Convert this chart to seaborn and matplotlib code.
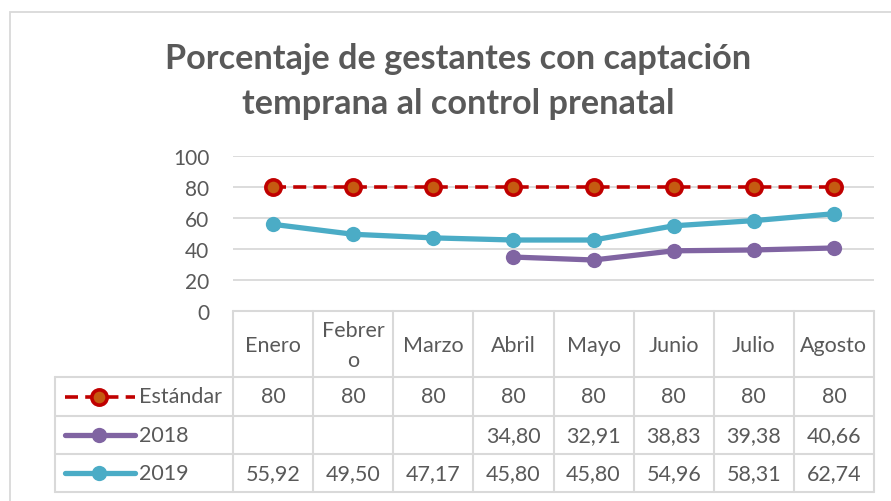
import matplotlib
matplotlib.use('Agg')
import matplotlib.pyplot as plt
import seaborn as sns
import numpy as np
import pandas as pd
from matplotlib.lines import Line2D
from matplotlib.patches import Rectangle

# data
months = ['Enero', 'Febrero', 'Marzo', 'Abril', 'Mayo', 'Junio', 'Julio', 'Agosto']
month_labels = ['Enero', 'Febrer\no', 'Marzo', 'Abril', 'Mayo', 'Junio', 'Julio', 'Agosto']
estandar = [80, 80, 80, 80, 80, 80, 80, 80]
y2018 = [None, None, None, 34.80, 32.91, 38.83, 39.38, 40.66]
y2019 = [55.92, 49.50, 47.17, 45.80, 45.80, 54.96, 58.31, 62.74]
series_names = ['Estándar', '2018', '2019']

TXT = '#595959'
GRID = '#d9d9d9'
FS = 15.5
styles = {
    'Estándar': dict(color='#C00000', linestyle=(0, (3.6, 2.0)), linewidth=2.6,
                     marker='o', markersize=11, markerfacecolor='#C55A11',
                     markeredgecolor='#C00000', markeredgewidth=2.6),
    '2018': dict(color='#8064A2', linestyle='-', linewidth=3.8, marker='o',
                 markersize=11, markerfacecolor='#8064A2', markeredgecolor='#8064A2',
                 markeredgewidth=0),
    '2019': dict(color='#4BACC6', linestyle='-', linewidth=3.8, marker='o',
                 markersize=11, markerfacecolor='#4BACC6', markeredgecolor='#4BACC6',
                 markeredgewidth=0),
}

df = pd.DataFrame({'mes': range(len(months)), 'Estándar': estandar,
                   '2018': y2018, '2019': y2019}).astype(float)

sns.set_style('white')
plt.rcParams['font.family'] = ['Lato', 'DejaVu Sans']

W, H = 891, 502
fig = plt.figure(figsize=(W / 100, H / 100), dpi=100)

# outer chart border
fig.add_artist(Rectangle((10 / W, -0.1), 1.2, 1 - 13 / H + 0.1, transform=fig.transFigure,
                         fill=False, edgecolor=GRID, linewidth=1.3))

x0, x1, ytop, ybot = 233, 874, 157, 312
ax = fig.add_axes([x0 / W, 1 - ybot / H, (x1 - x0) / W, (ybot - ytop) / H])
for name in ['2019', '2018', 'Estándar']:
    sns.lineplot(data=df, x='mes', y=name, ax=ax, errorbar=None, zorder=3, **styles[name])
ax.set_xlim(-0.5, len(months) - 0.5)
ax.set_ylim(0, 100)
ax.set_yticks(range(0, 101, 20))
ax.set_xticks([])
ax.set_xlabel('')
ax.set_ylabel('')
ax.yaxis.grid(True, color=GRID, linewidth=1.3)
ax.tick_params(axis='y', length=0, pad=17, labelsize=15, labelcolor=TXT)
for s in ax.spines.values():
    s.set_visible(False)
ax.patch.set_alpha(0)

fig.text(0.514, 1 - 59 / H, 'Porcentaje de gestantes con captación', ha='center', va='center',
         fontsize=24.7, fontweight='bold', color=TXT)
fig.text(0.514, 1 - 104 / H, 'temprana al control prenatal', ha='center', va='center',
         fontsize=24.7, fontweight='bold', color=TXT)

# data table
tl, tb = 55, 493
unit = (x1 - x0) / len(months)
tab = fig.add_axes([tl / W, 1 - tb / H, (x1 - tl) / W, (tb - ybot) / H])
left = -0.5 - (x0 - tl) / unit
tab.set_xlim(left, len(months) - 0.5)
tab.set_ylim(tb - ybot, 0)
tab.axis('off')
row_edges = [0, 66, 105, 143, 181]
lk = dict(color=GRID, linewidth=1.5, clip_on=False)
# header grid (no legend cell in header)
tab.plot([-0.5, len(months) - 0.5], [0, 0], **lk)
for i in range(len(months) + 1):
    tab.plot([i - 0.5, i - 0.5], [0, row_edges[-1]], **lk)
for e in row_edges[1:]:
    tab.plot([left, len(months) - 0.5], [e, e], **lk)
tab.plot([left, left], [row_edges[1], row_edges[-1]], **lk)

for i, lab in enumerate(month_labels):
    tab.text(i, row_edges[1] / 2 + 1, lab, ha='center', va='center', fontsize=FS,
             color=TXT, linespacing=1.6)

rows = [estandar, y2018, y2019]
for r, (name, vals) in enumerate(zip(series_names, rows)):
    yc = (row_edges[r + 1] + row_edges[r + 2]) / 2
    st = styles[name]
    tab.add_line(Line2D([left + 0.12, left + 1.0], [yc, yc], color=st['color'],
                        linestyle=st['linestyle'], linewidth=st['linewidth'],
                        solid_capstyle='round', clip_on=False))
    tab.add_line(Line2D([left + 0.55], [yc], marker='o', markersize=st['markersize'],
                        markerfacecolor=st['markerfacecolor'],
                        markeredgecolor=st['markeredgecolor'],
                        markeredgewidth=st['markeredgewidth'], clip_on=False))
    tab.text(left + 1.05, yc, name, ha='left', va='center', fontsize=FS, color=TXT)
    for i, v in enumerate(vals):
        if v is None:
            continue
        s = str(v) if name == 'Estándar' else f'{v:.2f}'.replace('.', ',')
        tab.text(i, yc, s, ha='center', va='center', fontsize=FS, color=TXT)

fig.savefig('out.png', dpi=100)
